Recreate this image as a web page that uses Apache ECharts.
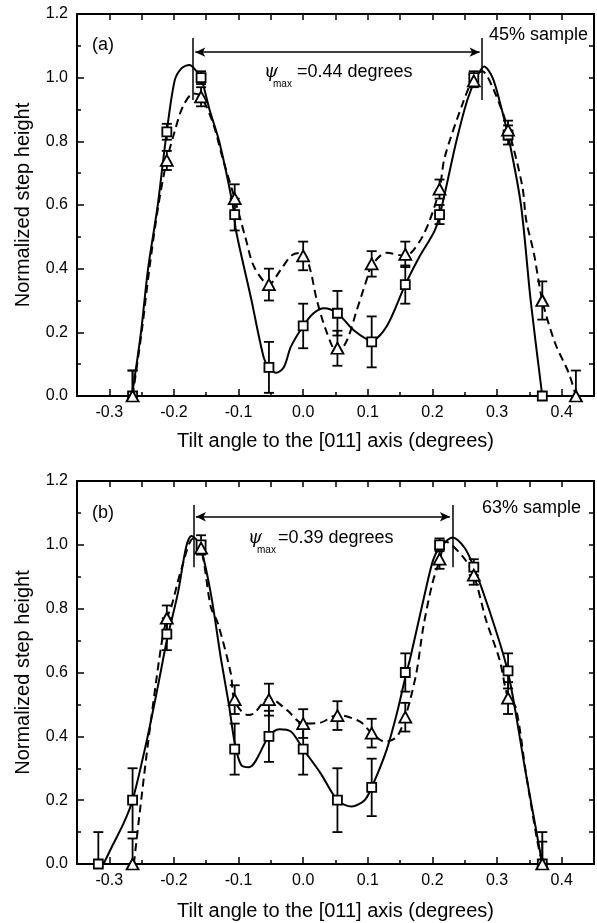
<!DOCTYPE html>
<html>
<head>
<meta charset="utf-8">
<script src="https://cdn.jsdelivr.net/npm/echarts@6/dist/echarts.min.js"></script>
<style>
  html, body { margin: 0; padding: 0; background: #fff; }
  #chart { width: 597px; height: 923px; }
</style>
</head>
<body>
<div id="chart"></div>
<script>
// ---- data ----
// panel (a): 45% sample
const xA = [-0.264, -0.211, -0.158, -0.106, -0.053, 0.0, 0.053, 0.106, 0.158, 0.211, 0.264, 0.317, 0.370, 0.422];
const sqA = [0.0, 0.83, 1.0, 0.57, 0.09, 0.22, 0.26, 0.17, 0.35, 0.57, 1.0, 0.82, 0.0];
const sqAErr = [0.08, 0.025, 0.02, 0.05, 0.08, 0.07, 0.07, 0.08, 0.06, 0.03, 0.02, 0.03, 0.0];
const triA = [0.0, 0.74, 0.94, 0.62, 0.35, 0.44, 0.15, 0.415, 0.445, 0.65, 0.99, 0.835, 0.30, 0.0];
const triAErr = [0.08, 0.03, 0.03, 0.045, 0.05, 0.045, 0.055, 0.04, 0.04, 0.03, 0.02, 0.03, 0.06, 0.08];
// curves (a)
const solidA = [[-0.265,0],[-0.251,0.2],[-0.240,0.4],[-0.225,0.6],[-0.213,0.8],[-0.199,0.99],[-0.188,1.03],[-0.176,1.04],[-0.165,1.02],[-0.158,1.0],[-0.145,0.9],[-0.130,0.8],[-0.109,0.6],[-0.104,0.52],[-0.081,0.31],[-0.061,0.12],[-0.053,0.09],[-0.042,0.073],[-0.030,0.09],[-0.019,0.155],[0,0.22],[0.016,0.26],[0.032,0.276],[0.053,0.26],[0.078,0.207],[0.106,0.174],[0.129,0.218],[0.158,0.35],[0.180,0.438],[0.204,0.522],[0.215,0.6],[0.237,0.8],[0.254,0.93],[0.268,1.0],[0.280,1.035],[0.293,1.0],[0.306,0.91],[0.319,0.8],[0.337,0.6],[0.352,0.3],[0.370,0]];
const dashA = [[-0.264,0],[-0.250,0.2],[-0.238,0.4],[-0.224,0.6],[-0.211,0.74],[-0.199,0.83],[-0.186,0.91],[-0.170,0.95],[-0.158,0.94],[-0.140,0.86],[-0.125,0.75],[-0.106,0.62],[-0.089,0.495],[-0.076,0.406],[-0.053,0.35],[-0.035,0.396],[-0.017,0.443],[0,0.45],[0.011,0.396],[0.021,0.302],[0.037,0.197],[0.053,0.135],[0.068,0.176],[0.083,0.27],[0.098,0.364],[0.106,0.41],[0.129,0.45],[0.158,0.44],[0.180,0.485],[0.196,0.553],[0.211,0.65],[0.219,0.75],[0.247,0.92],[0.264,1.0],[0.277,1.02],[0.293,0.97],[0.317,0.84],[0.339,0.66],[0.345,0.553],[0.357,0.448],[0.370,0.30],[0.390,0.165],[0.411,0.072],[0.422,0]];
const psiA = [-0.171, 0.277];

// panel (b): 63% sample
const xBsq = [-0.317, -0.264, -0.211, -0.158, -0.106, -0.053, 0.0, 0.053, 0.106, 0.158, 0.211, 0.264, 0.317, 0.370];
const sqB = [0.0, 0.2, 0.72, 1.0, 0.36, 0.40, 0.36, 0.20, 0.24, 0.60, 1.0, 0.93, 0.605, 0.0];
const sqBErr = [0.1, 0.1, 0.05, 0.03, 0.08, 0.08, 0.08, 0.1, 0.09, 0.06, 0.02, 0.025, 0.055, 0.1];
const xBtri = [-0.264, -0.211, -0.158, -0.106, -0.053, 0.0, 0.053, 0.106, 0.158, 0.211, 0.264, 0.317, 0.370];
const triB = [0.0, 0.77, 0.99, 0.515, 0.515, 0.44, 0.465, 0.41, 0.46, 0.955, 0.905, 0.52, 0.0];
const triBErr = [0.08, 0.04, 0.02, 0.045, 0.05, 0.045, 0.045, 0.045, 0.045, 0.03, 0.03, 0.05, 0.07];
const solidB = [[-0.309,0],[-0.296,0.054],[-0.278,0.127],[-0.264,0.2],[-0.243,0.378],[-0.225,0.555],[-0.211,0.70],[-0.194,0.848],[-0.181,0.994],[-0.173,1.028],[-0.160,1.0],[-0.143,0.848],[-0.127,0.64],[-0.115,0.5],[-0.106,0.38],[-0.096,0.31],[-0.084,0.303],[-0.053,0.40],[-0.037,0.422],[-0.019,0.415],[0,0.36],[0.027,0.284],[0.053,0.2],[0.075,0.18],[0.095,0.2],[0.106,0.24],[0.129,0.357],[0.145,0.472],[0.160,0.602],[0.165,0.639],[0.186,0.827],[0.201,0.952],[0.211,0.99],[0.231,1.023],[0.250,0.99],[0.264,0.93],[0.288,0.795],[0.317,0.60],[0.344,0.29],[0.370,0]];
const dashB = [[-0.262,0],[-0.253,0.16],[-0.240,0.38],[-0.220,0.68],[-0.211,0.77],[-0.204,0.806],[-0.189,0.92],[-0.170,1.02],[-0.158,0.99],[-0.143,0.806],[-0.132,0.754],[-0.112,0.597],[-0.106,0.51],[-0.086,0.467],[-0.076,0.472],[-0.053,0.52],[-0.025,0.482],[0,0.44],[0.027,0.443],[0.053,0.467],[0.088,0.446],[0.106,0.41],[0.127,0.383],[0.145,0.399],[0.158,0.46],[0.175,0.597],[0.186,0.744],[0.200,0.88],[0.211,0.95],[0.221,1.01],[0.247,0.963],[0.264,0.905],[0.283,0.764],[0.304,0.639],[0.317,0.52],[0.329,0.49],[0.345,0.28],[0.362,0.075],[0.370,0]];
const psiB = [-0.170, 0.231];

const xLabelTicks = [-0.3, -0.2, -0.1, 0, 0.1, 0.2, 0.3, 0.4];

const FONT = '"Liberation Sans", Arial, Helvetica, sans-serif';
const myChart = echarts.init(document.getElementById('chart'), null, { renderer: 'canvas' });

function pairs(xs, ys) {
    return ys.map(function (y, i) { return [xs[i], y]; });
}
function errs(xs, ys, es) {
    return ys.map(function (y, i) { return [xs[i], y - es[i], y + es[i]]; });
}

function errRender(params, api) {
    var x = api.value(0);
    var lo = Math.max(api.value(1), 0);
    var hi = api.value(2);
    var a = api.coord([x, lo]);
    var b = api.coord([x, hi]);
    var st = { stroke: '#000', lineWidth: 1.8 };
    return {
        type: 'group',
        children: [
            { type: 'line', shape: { x1: a[0], y1: a[1], x2: b[0], y2: b[1] }, style: st },
            { type: 'line', shape: { x1: a[0] - 5, y1: a[1], x2: a[0] + 5, y2: a[1] }, style: st },
            { type: 'line', shape: { x1: b[0] - 5, y1: b[1], x2: b[0] + 5, y2: b[1] }, style: st }
        ]
    };
}

function xFmt(v) {
    if (Math.abs(Math.round(v * 100)) % 10 !== 0) return '';
    if (Math.abs(v) < 1e-9) return '0.0';
    return v.toFixed(1);
}

var blk = { color: '#000', width: 2 };
var grids = [
    { left: 77, top: 14, width: 518, height: 382 },
    { left: 77, top: 481, width: 518, height: 383 }
];
var xAxes = [], yAxes = [];
[0, 1].forEach(function (g) {
    // bottom axis with labels and short ticks every 0.05
    xAxes.push({
        gridIndex: g, type: 'value', min: -0.35, max: 0.45, interval: 0.05, position: 'bottom',
        name: 'Tilt angle to the [011] axis (degrees)',
        nameLocation: 'middle', nameGap: g === 0 ? 35 : 37,
        nameTextStyle: { color: '#000', fontSize: 20, fontFamily: FONT },
        axisLine: { onZero: false, lineStyle: blk },
        axisTick: { inside: true, length: 4, lineStyle: { color: '#000', width: 1.5 } },
        axisLabel: { formatter: xFmt, color: '#000', fontSize: 16, fontFamily: FONT, margin: 9 },
        splitLine: { show: false }
    });
    // long ticks at the labelled values
    xAxes.push({
        gridIndex: g, type: 'value', min: -0.35, max: 0.45, position: 'bottom',
        axisLine: { show: false, onZero: false },
        axisTick: { inside: true, length: 7, customValues: xLabelTicks, lineStyle: { color: '#000', width: 1.5 } },
        axisLabel: { show: false },
        splitLine: { show: false }
    });
    // top frame
    xAxes.push({
        gridIndex: g, type: 'value', min: -0.35, max: 0.45, interval: 0.05, position: 'top',
        axisLine: { onZero: false, lineStyle: blk },
        axisTick: { inside: true, length: 6, lineStyle: { color: '#000', width: 1.5 } },
        axisLabel: { show: false },
        splitLine: { show: false }
    });
    yAxes.push({
        gridIndex: g, type: 'value', min: 0, max: 1.2, interval: 0.2, position: 'left',
        name: 'Normalized step height',
        nameLocation: 'middle', nameGap: 44,
        nameTextStyle: { color: '#000', fontSize: 20, fontFamily: FONT },
        axisLine: { onZero: false, lineStyle: blk },
        axisTick: { inside: true, length: 7, lineStyle: { color: '#000', width: 1.5 } },
        minorTick: { show: true, splitNumber: 2, length: 4, lineStyle: { color: '#000', width: 1.5 } },
        axisLabel: { formatter: function (v) { return v.toFixed(1); }, color: '#000', fontSize: 16, fontFamily: FONT, margin: 9 },
        splitLine: { show: false },
        minorSplitLine: { show: false }
    });
    yAxes.push({
        gridIndex: g, type: 'value', min: 0, max: 1.2, interval: 0.1, position: 'right',
        axisLine: { onZero: false, lineStyle: blk },
        axisTick: { inside: true, length: 5, lineStyle: { color: '#000', width: 1.5 } },
        axisLabel: { show: false },
        splitLine: { show: false }
    });
});

function annot(psi, yArrow) {
    var ls = { color: '#000', width: 1.5, type: 'solid' };
    return {
        silent: true, symbol: 'none', label: { show: false }, lineStyle: ls,
        emphasis: { disabled: true },
        data: [
            [{ coord: [psi[0], 0.93] }, { coord: [psi[0], 1.125] }],
            [{ coord: [psi[1], 0.93] }, { coord: [psi[1], 1.125] }],
            [{ coord: [psi[0] + 0.004, yArrow], symbol: 'arrow', symbolSize: [7, 10] },
             { coord: [psi[1] - 0.004, yArrow], symbol: 'arrow', symbolSize: [7, 10] }]
        ]
    };
}

function panelSeries(g, curveS, curveD, sq, tri, sqE, triE, psi, yArrow) {
    var xi = g * 3, yi = g * 2;
    var mk = { color: '#fff', borderColor: '#000', borderWidth: 1.8, opacity: 1 };
    return [
        { type: 'custom', xAxisIndex: xi, yAxisIndex: yi, renderItem: errRender, data: sqE, z: 2, silent: true, encode: { x: 0, y: [1, 2] } },
        { type: 'custom', xAxisIndex: xi, yAxisIndex: yi, renderItem: errRender, data: triE, z: 2, silent: true, encode: { x: 0, y: [1, 2] } },
        { type: 'line', xAxisIndex: xi, yAxisIndex: yi, data: curveS, smooth: 0.3, showSymbol: false, z: 3,
          lineStyle: { color: '#000', width: 2 }, markLine: annot(psi, yArrow) },
        { type: 'line', xAxisIndex: xi, yAxisIndex: yi, data: curveD, smooth: 0.3, showSymbol: false, z: 3,
          lineStyle: { color: '#000', width: 2, type: [8, 5] } },
        { type: 'scatter', xAxisIndex: xi, yAxisIndex: yi, data: sq, symbol: 'rect', symbolSize: 9, z: 4,
          itemStyle: mk, emphasis: { disabled: true } },
        { type: 'scatter', xAxisIndex: xi, yAxisIndex: yi, data: tri, symbol: 'triangle', symbolSize: [12, 11], z: 4,
          itemStyle: mk, emphasis: { disabled: true } }
    ];
}

var series = []
    .concat(panelSeries(0, solidA, dashA, pairs(xA, sqA), pairs(xA, triA),
        errs(xA, sqA, sqAErr), errs(xA, triA, triAErr), psiA, 1.08))
    .concat(panelSeries(1, solidB, dashB, pairs(xBsq, sqB), pairs(xBtri, triB),
        errs(xBsq, sqB, sqBErr), errs(xBtri, triB, triBErr), psiB, 1.088));

function txt(x, y, s, size, extra) {
    var st = { text: s, fill: '#000', fontSize: size, fontFamily: FONT, verticalAlign: 'middle' };
    if (extra) for (var k in extra) st[k] = extra[k];
    return { type: 'text', x: x, y: y, silent: true, style: st, z: 10 };
}

var option = {
    animation: false,
    backgroundColor: '#fff',
    grid: grids,
    xAxis: xAxes,
    yAxis: yAxes,
    series: series,
    graphic: [
        txt(92, 45, '(a)', 18),
        txt(489, 35, '45% sample', 18),
        txt(264, 72, 'ψ', 18, { fontStyle: 'italic', fontFamily: '"DejaVu Serif", serif' }),
        txt(273, 84, 'max', 10),
        txt(297, 72, '=0.44 degrees', 18),
        txt(92, 513, '(b)', 18),
        txt(482, 508, '63% sample', 18),
        txt(248, 538, 'ψ', 18, { fontStyle: 'italic', fontFamily: '"DejaVu Serif", serif' }),
        txt(257, 550, 'max', 10),
        txt(278, 538, '=0.39 degrees', 18)
    ]
};
myChart.setOption(option);
</script>
</body>
</html>
